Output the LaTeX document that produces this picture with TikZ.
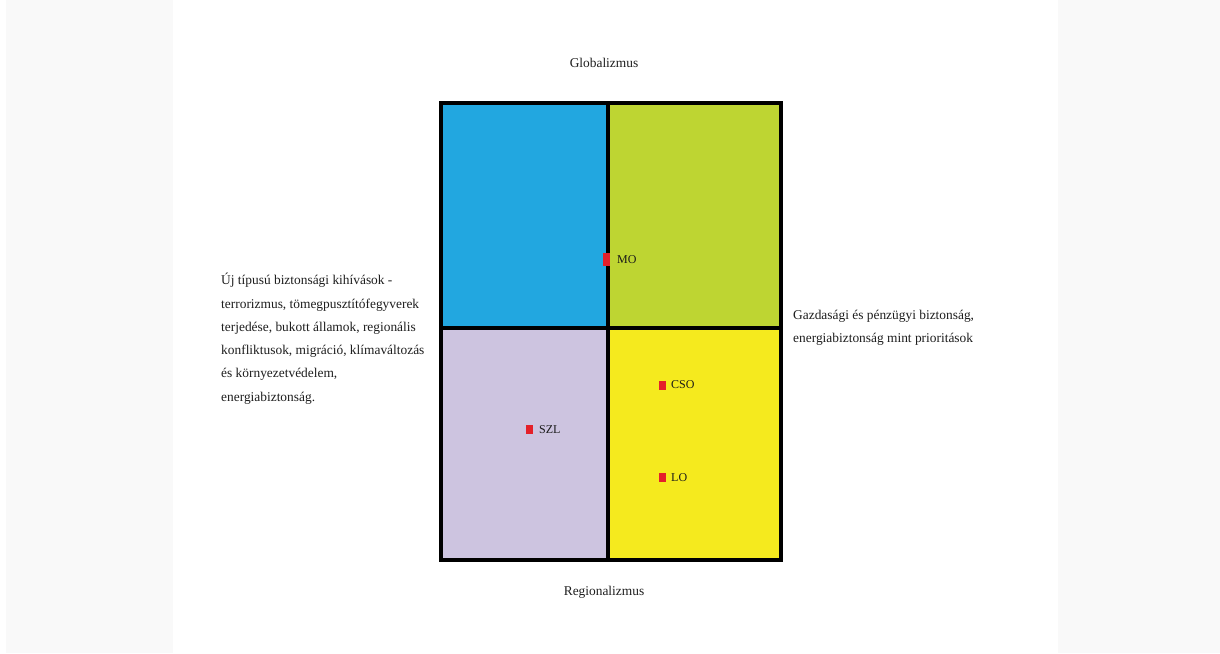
\documentclass[tikz,border=0pt]{standalone}
\usepackage{fontspec}
\setmainfont{Liberation Serif}
\definecolor{panelgrey}{RGB}{249,249,249}
\definecolor{qblue}{RGB}{34,167,224}
\definecolor{qgreen}{RGB}{190,213,50}
\definecolor{qlav}{RGB}{205,196,224}
\definecolor{qyellow}{RGB}{245,234,30}
\definecolor{qred}{RGB}{228,32,42}
\definecolor{txt}{RGB}{30,30,30}
\tikzset{
  quad/.style={draw=none},
  marker/.style={fill=qred,draw=none,inner sep=0pt,minimum width=7pt,minimum height=9pt},
  mlabel/.style={anchor=west,inner sep=0pt,font=\fontsize{12}{12}\selectfont,text=black!90},
  axis/.style={inner sep=0pt,font=\fontsize{13.4}{16}\selectfont,text=txt},
  para/.style={inner sep=0pt,align=left,anchor=north west,font=\fontsize{13.4}{23.3}\selectfont,text=txt},
  frame/.style={draw=black,line width=4pt},
  divider/.style={draw=black,line width=3.5pt}
}
\begin{document}
\begin{tikzpicture}[x=1pt,y=-1pt]
\useasboundingbox (0,0) rectangle (1220,653);
\fill[white] (0,0) rectangle (1220,653);
\fill[panelgrey] (6,0) rectangle (173,653);
\fill[panelgrey] (1058,0) rectangle (1220,653);
% quadrants
\fill[qblue] (441,103) rectangle (608,328);
\fill[qgreen] (608,103) rectangle (781,328);
\fill[qlav] (441,328) rectangle (608,560);
\fill[qyellow] (608,328) rectangle (781,560);
\coordinate (tl) at (441,103);
\coordinate (br) at (781,560);
\coordinate (vt) at (608,103);
\coordinate (vb) at (608,560);
\coordinate (hl) at (441,328);
\coordinate (hr) at (781,328);
\draw[divider] (vt) -- (vb);
\draw[divider] (hl) -- (hr);
\draw[frame] (tl) rectangle (br);
% axis labels
\node[axis] (glob) at (604,63) {Globalizmus};
\node[axis] (reg) at (604,592) {Regionalizmus};
% side texts
\node[para] (left) at (221,273) {Új típusú biztonsági kihívások -\\terrorizmus, tömegpusztítófegyverek\\terjedése, bukott államok, regionális\\konfliktusok, migráció, klímaváltozás\\és környezetvédelem,\\energiabiztonság.};
\node[para] (right) at (793,310) {Gazdasági és pénzügyi biztonság,\\energiabiztonság mint prioritások};
% markers
\node[marker,minimum height=13pt] (mo) at (606.5,259.5) {};
\node[mlabel] (molab) at (617,260) {MO};
\node[marker] (cso) at (662,385) {};
\node[mlabel] (csolab) at (671,385) {CSO};
\node[marker] (lo) at (662,477) {};
\node[mlabel] (lolab) at (671,478) {LO};
\node[marker] (szl) at (529,429) {};
\node[mlabel] (szllab) at (539,430) {SZL};
\end{tikzpicture}
\end{document}
